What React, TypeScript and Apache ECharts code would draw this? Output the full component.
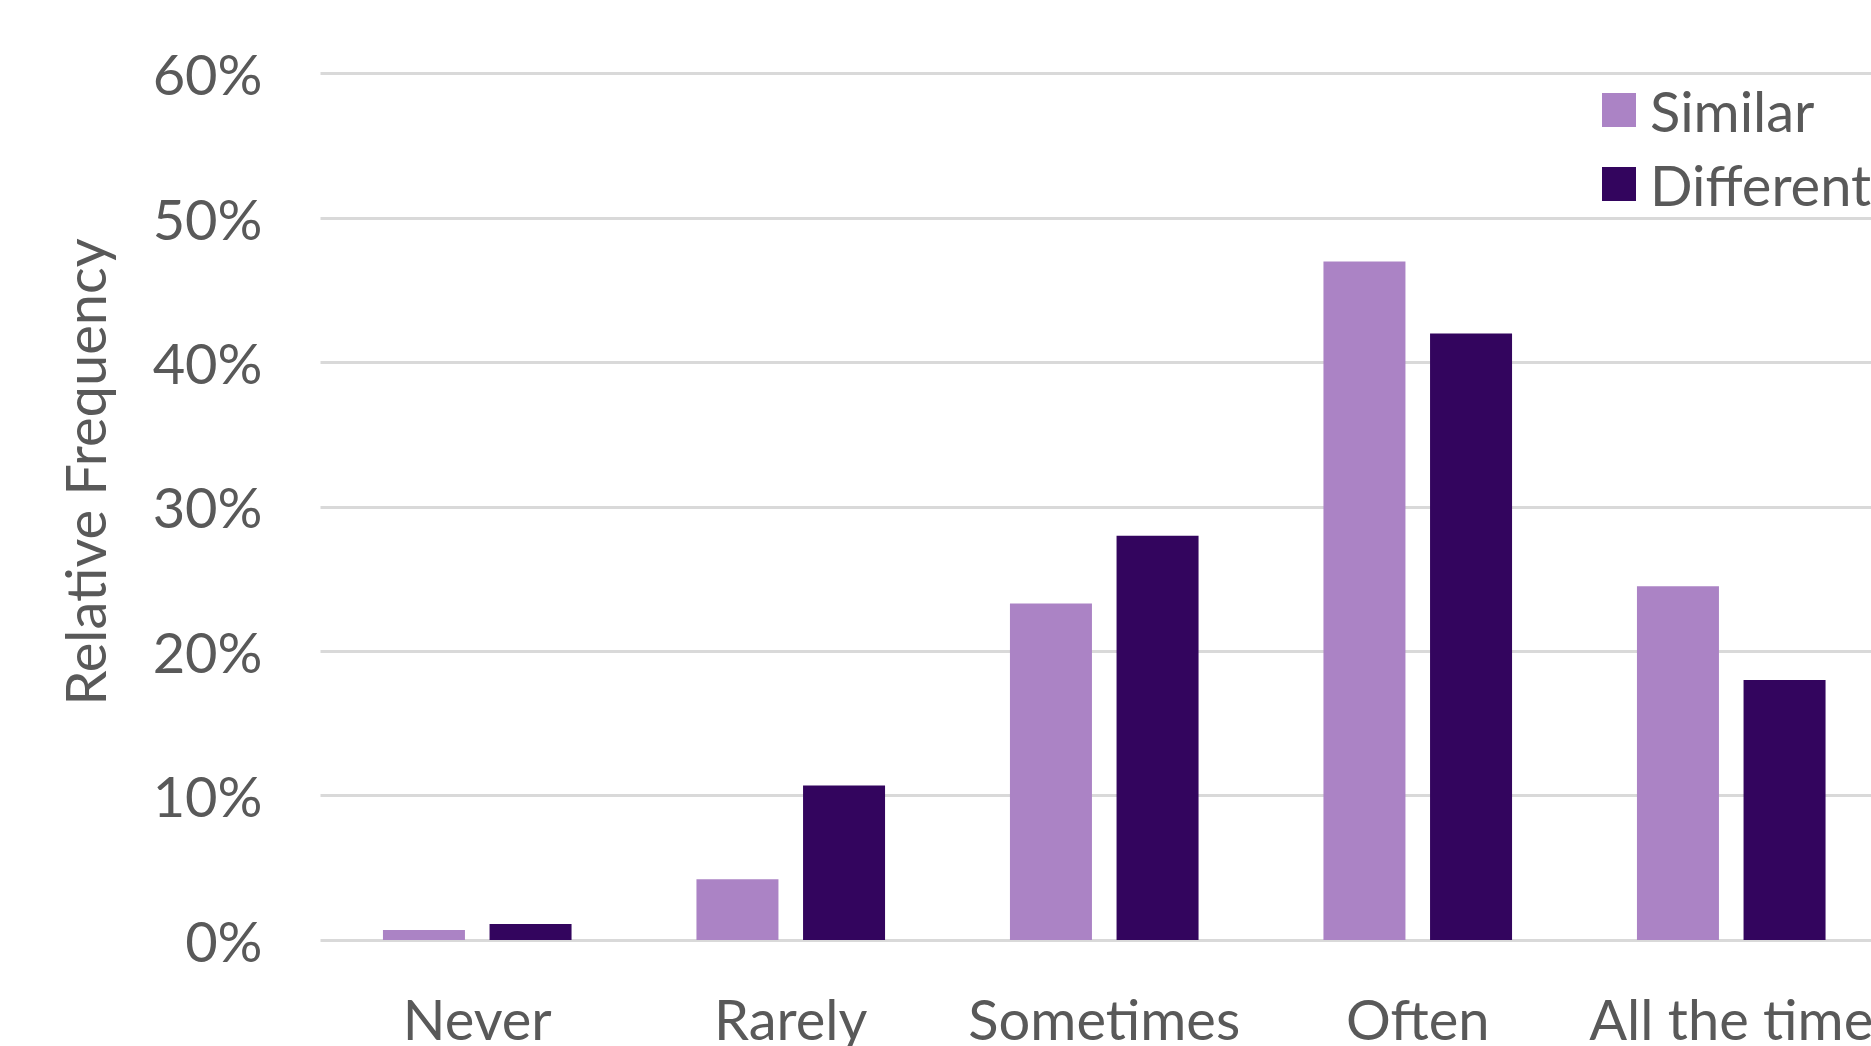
import React, { useEffect, useRef } from "react";
import * as echarts from "echarts";

const categories = ["Never", "Rarely", "Sometimes", "Often", "All the time"];
const similarValues = [0.7, 4.2, 23.3, 47.0, 24.5];
const differentValues = [1.1, 10.7, 28.0, 42.0, 18.0];
const seriesNames = ["Similar", "Different"];
const yTicks = { min: 0, max: 60, interval: 10 };
const yAxisTitle = "Relative Frequency";

const FONT = "Lato, 'Open Sans', sans-serif";
const TEXT_COLOR = "#595959";

export default function App() {
  const ref = useRef<HTMLDivElement>(null);

  useEffect(() => {
    document.body.style.margin = "0";
    document.body.style.overflow = "hidden";
    if (!ref.current) return;
    const chart = echarts.init(ref.current, undefined, { renderer: "svg" });
    chart.setOption({
      animation: false,
      backgroundColor: "#ffffff",
      grid: { left: 320.5, top: 73.7, right: 2, bottom: 103.5, containLabel: false },
      legend: {
        orient: "vertical",
        left: 1597,
        top: 77,
        itemWidth: 34,
        itemHeight: 34,
        itemGap: 18,
        icon: "rect",
        data: seriesNames,
        textStyle: {
          fontFamily: FONT,
          fontSize: 56,
          color: TEXT_COLOR,
          lineHeight: 56,
          padding: [0, 0, 0, 9],
        },
      },
      xAxis: {
        type: "category",
        data: categories,
        axisLine: { show: false },
        axisTick: { show: false },
        axisLabel: {
          fontFamily: FONT,
          fontSize: 56,
          color: TEXT_COLOR,
          margin: 50,
          interval: 0,
        },
      },
      yAxis: {
        type: "value",
        min: yTicks.min,
        max: yTicks.max,
        interval: yTicks.interval,
        axisLine: { show: false },
        axisTick: { show: false },
        axisLabel: {
          fontFamily: FONT,
          fontSize: 56,
          color: TEXT_COLOR,
          margin: 58,
          formatter: (v: number) => `${v}%`,
        },
        splitLine: { show: true, lineStyle: { color: "#d9d9d9", width: 3 } },
      },
      graphic: [
        {
          type: "text",
          x: 84,
          y: 472,
          rotation: Math.PI / 2,
          style: {
            text: yAxisTitle,
            fontFamily: FONT,
            fontSize: 56,
            fill: TEXT_COLOR,
            textAlign: "center",
            textVerticalAlign: "middle",
          },
        },
      ],
      series: [
        {
          name: seriesNames[0],
          type: "bar",
          data: similarValues,
          barWidth: 82,
          barGap: "30%",
          itemStyle: { color: "#ab83c5" },
        },
        {
          name: seriesNames[1],
          type: "bar",
          data: differentValues,
          barWidth: 82,
          barGap: "30%",
          itemStyle: { color: "#33055e" },
        },
      ],
    });
    return () => chart.dispose();
  }, []);

  return <div ref={ref} style={{ width: 1890, height: 1046 }} />;
}
